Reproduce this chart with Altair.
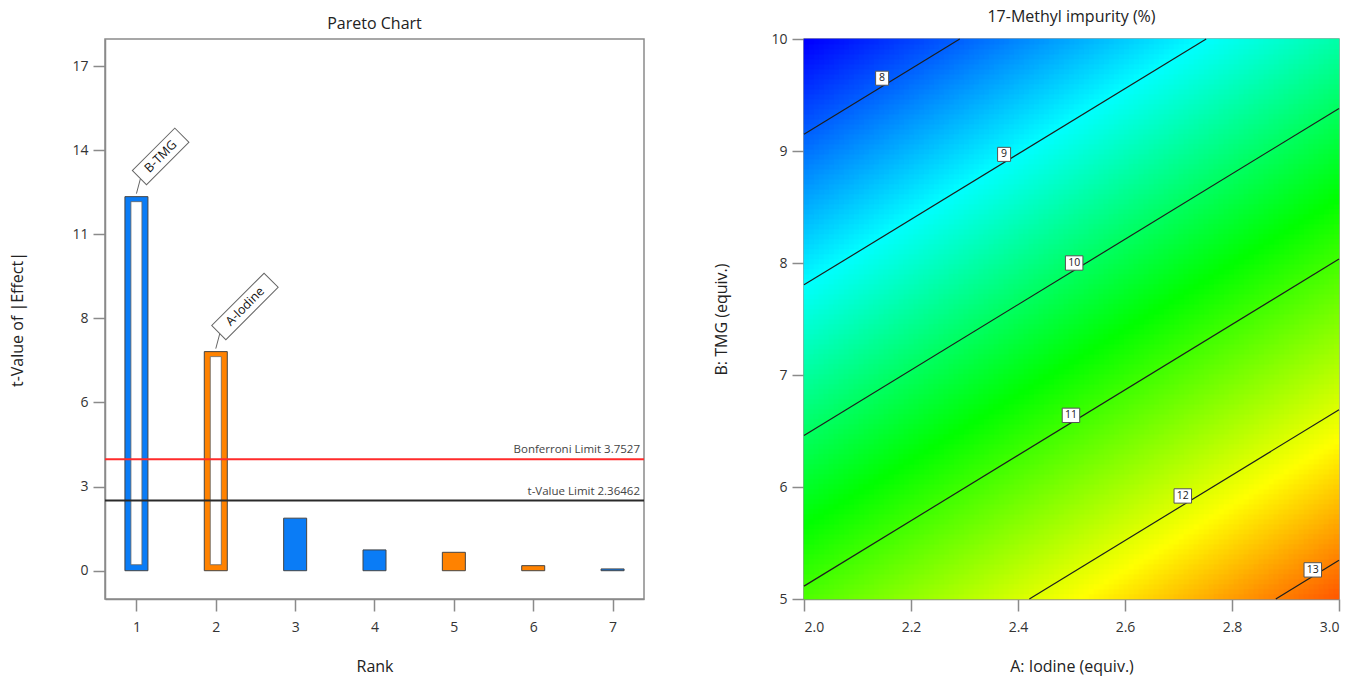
import altair as alt
import numpy as np
import pandas as pd

alt.data_transformers.disable_max_rows()

# ---------------- Pareto chart data ----------------
RANKS = [1, 2, 3, 4, 5, 6, 7]
T_VALUES = [12.60, 7.38, 1.77, 0.70, 0.62, 0.17, 0.06]
EFFECT_SIGN = ["negative", "positive", "negative", "negative", "positive", "positive", "negative"]
TERM_LABELS = ["B-TMG", "A-Iodine", "", "", "", "", ""]
Y_TICKS = [0, 2.8333, 5.6667, 8.5, 11.3333, 14.1667, 17.0]
Y_TICK_LABELS = ["0", "3", "6", "8", "11", "14", "17"]
LIMIT_NAMES = ["Bonferroni Limit", "t-Value Limit"]
LIMIT_VALUES = [3.7527, 2.36462]
LIMIT_TEXT = ["3.7527", "2.36462"]

# ---------------- Contour plot data ----------------
# linear response surface read from the straight, evenly spaced contours
MODEL_INTERCEPT = 10.461
MODEL_COEF_A = 2.171
MODEL_COEF_B = -0.7435
A_RANGE = [2.0, 3.0]
B_RANGE = [5.0, 10.0]
CONTOUR_LEVELS = [8, 9, 10, 11, 12, 13]
CONTOUR_LABEL_A = [2.146, 2.374, 2.505, 2.499, 2.708, 2.951]
CONTOUR_LABEL_B = [9.65, 8.97, 8.00, 6.64, 5.92, 5.26]
A_TICKS = [2.0, 2.2, 2.4, 2.6, 2.8, 3.0]
B_TICKS = [5, 6, 7, 8, 9, 10]
COLOR_STOPS = [7.4, 9.0, 10.6, 12.2, 13.8]
COLOR_RANGE = ["#0000ff", "#00ffff", "#00ff00", "#ffff00", "#ff0000"]

FONT = "Open Sans"
LEFT_W, RIGHT_W, PANEL_H = 539, 535, 560

# ---------------- Pareto chart ----------------
pareto = pd.DataFrame({"rank": RANKS, "t": T_VALUES, "sign": EFFECT_SIGN, "term": TERM_LABELS})
pareto["base"] = 0.0
pareto["significant"] = pareto["t"] > LIMIT_VALUES[1]

label_expr = " : ".join(
    f"abs(datum.value - {v}) < 0.01 ? '{s}'" for v, s in zip(Y_TICKS, Y_TICK_LABELS)
) + " : ''"

xs = alt.Scale(domain=[0.667, 7.333], nice=False, zero=False)
ys = alt.Scale(domain=[-0.953, 17.91], nice=False, zero=False)

x_enc = alt.X("rank:Q", scale=xs, title="Rank",
              axis=alt.Axis(values=RANKS, format="d", tickSize=12, labelPadding=9, grid=False,
                            titlePadding=24, labelFontSize=14, titleFontSize=16))
y_enc = alt.Y("t:Q", scale=ys, title="t-Value of |Effect|",
              axis=alt.Axis(values=Y_TICKS, labelExpr=label_expr, tickSize=12, labelPadding=5,
                            grid=False, titlePadding=46, labelFontSize=14, titleFontSize=16))
color_enc = alt.Color("sign:N", scale=alt.Scale(domain=["negative", "positive"],
                                                 range=["#0a7cf6", "#ff8200"]), legend=None)

base = alt.Chart(pareto)
bars = base.mark_bar(width=23, stroke="#444444", strokeWidth=1).encode(
    x=x_enc, y=y_enc, y2="base:Q", color=color_enc)
inner = base.transform_filter("datum.significant").mark_bar(
    width=11, color="white", stroke="#666666", strokeWidth=0.8, yOffset=5, y2Offset=-6
).encode(x="rank:Q", y="t:Q", y2="base:Q")

layers = [bars, inner]

limit_colors = ["#ff2b2b", "#2a2a2a"]
for name, val, txt, col in zip(LIMIT_NAMES, LIMIT_VALUES, LIMIT_TEXT, limit_colors):
    d = pd.DataFrame({"t": [val], "label": [f"{name} {txt}"]})
    layers.append(alt.Chart(d).mark_rule(color=col, strokeWidth=2).encode(y="t:Q"))
    layers.append(alt.Chart(d).mark_text(align="right", baseline="alphabetic", dy=-6,
                                         fontSize=11.5, color="#444444", font=FONT).encode(
        x=alt.value(LEFT_W - 4), y="t:Q", text="label:N"))

box_lengths = [60, 74]
labeled = pareto[pareto["term"] != ""].reset_index(drop=True)
for i, row in labeled.iterrows():
    L = box_lengths[i]
    h = 20.0 / L
    path = f"M-1,-{h:.3f}L1,-{h:.3f}L1,{h:.3f}L-1,{h:.3f}Z"
    cx = 3 + 0.3536 * L
    cy = -19 - 0.3536 * L
    d = pd.DataFrame([row])
    c = alt.Chart(d)
    layers.append(c.mark_rule(color="#666666", strokeWidth=1, yOffset=-3, x2Offset=4,
                              y2Offset=-18).encode(x="rank:Q", x2="rank:Q", y="t:Q", y2="t:Q"))
    layers.append(c.mark_point(shape=path, size=L * L, angle=315, filled=True, fill="white",
                               stroke="#666666", strokeWidth=1, opacity=1,
                               xOffset=cx, yOffset=cy).encode(x="rank:Q", y="t:Q"))
    layers.append(c.mark_text(angle=315, align="center", baseline="middle", fontSize=12.5,
                              font=FONT, color="#111111", xOffset=cx, yOffset=cy).encode(
        x="rank:Q", y="t:Q", text="term:N"))

left = alt.layer(*layers).properties(
    width=LEFT_W, height=PANEL_H,
    title=alt.TitleParams("Pareto Chart", fontSize=16, fontWeight="normal", font=FONT,
                          color="#222222", offset=7))

# ---------------- Contour plot ----------------
def model(a, b):
    return MODEL_INTERCEPT + MODEL_COEF_A * a + MODEL_COEF_B * b

NX, NY = 107, 112
a_edges = np.linspace(A_RANGE[0], A_RANGE[1], NX + 1)
b_edges = np.linspace(B_RANGE[0], B_RANGE[1], NY + 1)
A0, B0 = np.meshgrid(a_edges[:-1], b_edges[:-1])
A1, B1 = np.meshgrid(a_edges[1:], b_edges[1:])
grid = pd.DataFrame({
    "a0": A0.ravel(), "a1": A1.ravel(), "b0": B0.ravel(), "b1": B1.ravel(),
})
grid["z"] = model((grid["a0"] + grid["a1"]) / 2, (grid["b0"] + grid["b1"]) / 2).round(3)

cx_scale = alt.Scale(domain=A_RANGE, nice=False, zero=False)
cy_scale = alt.Scale(domain=B_RANGE, nice=False, zero=False)
zscale = alt.Scale(domain=COLOR_STOPS, range=COLOR_RANGE, interpolate="rgb")

heat = alt.Chart(grid).mark_rect(strokeWidth=0.7).encode(
    x=alt.X("a0:Q", scale=cx_scale, title="A: Iodine (equiv.)",
            axis=alt.Axis(values=A_TICKS, format=".1f", tickSize=12, labelPadding=9, grid=False,
                          titlePadding=24, labelFontSize=14, titleFontSize=16)),
    x2="a1:Q",
    y=alt.Y("b0:Q", scale=cy_scale, title="B: TMG (equiv.)",
            axis=alt.Axis(values=B_TICKS, format="d", tickSize=12, labelPadding=5, grid=False,
                          titlePadding=41, labelFontSize=14, titleFontSize=16)),
    y2="b1:Q",
    color=alt.Color("z:Q", scale=zscale, legend=None),
    stroke=alt.Stroke("z:Q", scale=zscale, legend=None),
)

rows = []
for lev in CONTOUR_LEVELS:
    pts = []
    for a in A_RANGE:
        b = (lev - MODEL_INTERCEPT - MODEL_COEF_A * a) / MODEL_COEF_B
        if B_RANGE[0] <= b <= B_RANGE[1]:
            pts.append((a, b))
    for b in B_RANGE:
        a = (lev - MODEL_INTERCEPT - MODEL_COEF_B * b) / MODEL_COEF_A
        if A_RANGE[0] < a < A_RANGE[1]:
            pts.append((a, b))
    pts = sorted(pts)[:2]
    for k, (a, b) in enumerate(pts):
        rows.append({"level": lev, "a": a, "b": b, "k": k})
lines_df = pd.DataFrame(rows)

contours = alt.Chart(lines_df).mark_line(color="#1e1e1e", strokeWidth=1.2).encode(
    x="a:Q", y="b:Q", detail="level:N", order="k:Q")

lab_df = pd.DataFrame({"a": CONTOUR_LABEL_A, "b": CONTOUR_LABEL_B,
                       "text": [str(v) for v in CONTOUR_LEVELS]})
lab_df["w"] = lab_df["text"].str.len().astype(str)
path1 = "M-1,-1.08L1,-1.08L1,1.08L-1,1.08Z"
path2 = "M-1,-0.82L1,-0.82L1,0.82L-1,0.82Z"
lab_box = alt.Chart(lab_df).mark_point(filled=True, fill="white", stroke="#555555",
                                       strokeWidth=1, opacity=1).encode(
    x="a:Q", y="b:Q",
    shape=alt.Shape("w:N", scale=alt.Scale(domain=["1", "2"], range=[path1, path2]), legend=None),
    size=alt.Size("w:N", scale=alt.Scale(domain=["1", "2"], range=[169, 306]), legend=None))
lab_txt = alt.Chart(lab_df).mark_text(fontSize=10.5, font=FONT, color="#222222",
                                      baseline="middle", align="center").encode(
    x="a:Q", y="b:Q", text="text:N")

right = alt.layer(heat, contours, lab_box, lab_txt).properties(
    width=RIGHT_W, height=PANEL_H,
    title=alt.TitleParams("17-Methyl impurity (%)", fontSize=16, fontWeight="normal", font=FONT,
                          color="#222222", offset=7))

chart = alt.hconcat(left, right, spacing=160, bounds="flush").properties(
    padding={"left": 9, "top": 8, "right": 5, "bottom": 5},
    background="white"
).configure_view(stroke="#8a8a8a", strokeWidth=1.5).configure_axis(
    grid=False, domainColor="#8a8a8a", domainWidth=1.5, tickColor="#8a8a8a", tickWidth=1.5,
    labelColor="#333333", titleColor="#222222", labelFont=FONT, titleFont=FONT,
    titleFontWeight="normal"
)

chart.save("out.html", embed_options={"renderer": "svg", "actions": False})
